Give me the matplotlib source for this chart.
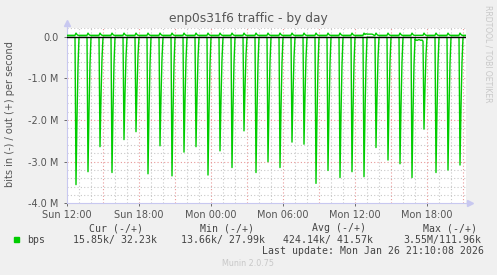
import numpy as np
import matplotlib as mpl
mpl.use('Agg')
import matplotlib.pyplot as plt
from matplotlib.patches import Rectangle

# Hourly "in" spikes (time of the drop, depth in M bits/s)
spike_times = ['Sun 12:45', 'Sun 13:45', 'Sun 14:45', 'Sun 15:45', 'Sun 16:45',
               'Sun 17:45', 'Sun 18:45', 'Sun 19:45', 'Sun 20:45', 'Sun 21:45',
               'Sun 22:45', 'Sun 23:45', 'Mon 00:45', 'Mon 01:45', 'Mon 02:45',
               'Mon 03:45', 'Mon 04:45', 'Mon 05:45', 'Mon 06:45', 'Mon 07:45',
               'Mon 08:45', 'Mon 09:45', 'Mon 10:45', 'Mon 11:45', 'Mon 12:45',
               'Mon 13:45', 'Mon 14:45', 'Mon 15:45', 'Mon 16:45', 'Mon 17:45',
               'Mon 18:45', 'Mon 19:45', 'Mon 20:45']
spike_depth = [3.55, 3.24, 2.64, 3.26, 2.47, 2.28, 3.29, 2.62, 3.34, 2.77,
               2.64, 3.32, 2.74, 3.14, 2.26, 3.26, 3.00, 3.14, 2.53, 2.58,
               3.52, 3.21, 3.38, 3.24, 3.36, 2.66, 2.96, 3.05, 3.38, 2.22,
               3.26, 3.20, 3.08]
# shape of a spike over consecutive 5 min samples (fraction of depth)
spike_shape = [1.0, 0.55, 0.2]
# "out" bump at each spike (M)
bump_shape = [0.085, 0.05]

in_base = -0.015
out_base = 0.032

# a few odd stretches
in_extra_times = ['Mon 17:00', 'Mon 17:05', 'Mon 17:10', 'Mon 17:15', 'Mon 17:20',
                  'Mon 17:25', 'Mon 17:30', 'Mon 17:35', 'Mon 17:40']
in_extra_vals = [-0.05, -0.08, -0.09, -0.08, -0.07, -0.08, -0.09, -0.08, -0.11]
out_extra_times = ['Mon 12:55', 'Mon 13:00', 'Mon 13:05', 'Mon 13:10', 'Mon 13:15',
                   'Mon 13:20', 'Mon 13:25', 'Mon 13:30']
out_extra_vals = [0.07, 0.06, 0.06, 0.06, 0.06, 0.06, 0.06, 0.05]

x_labels = ['Sun 12:00', 'Sun 18:00', 'Mon 00:00', 'Mon 06:00', 'Mon 12:00', 'Mon 18:00']
y_labels = ['0.0', '-1.0 M', '-2.0 M', '-3.0 M', '-4.0 M']


def to_min(s):
    day, hm = s.split()
    h, m = hm.split(':')
    return (24 * 60 if day == 'Mon' else 0) + int(h) * 60 + int(m) - 12 * 60


step = 5
t = np.arange(0, 1996, step)
idx = {m: i for i, m in enumerate(t)}
v_in = np.full(len(t), in_base)
v_out = np.full(len(t), out_base)
for s, d in zip(spike_times, spike_depth):
    i = idx[to_min(s)]
    for k, f in enumerate(spike_shape):
        v_in[i + k] = -d * f
    for k, b in enumerate(bump_shape):
        v_out[i + k] = b
for s, v in zip(in_extra_times, in_extra_vals):
    v_in[idx[to_min(s)]] = v
for s, v in zip(out_extra_times, out_extra_vals):
    v_out[idx[to_min(s)]] = v
hrs = t / 60.0

W, H = 497, 275
fig = plt.figure(figsize=(W / 100, H / 100), dpi=100, facecolor='#F0F0F0')
ax = fig.add_axes([67 / W, (H - 203.4) / H, 399 / W, (203.4 - 28.3) / H])
ax.set_facecolor('white')

green = '#00CC00'
ax.plot(hrs, v_out, color=green, lw=1.0, zorder=3)
ax.plot(hrs, v_in, color=green, lw=1.0, zorder=3)
ax.axhline(0, color='black', lw=1.0, zorder=4)

ax.set_xlim(0, 33.25)
ax.set_ylim(-4.0, 0.2)

# grid
minor_c = '#C8C8C8'
major_c = '#E89898'
dots = (0, (1, 2))
for h in np.arange(1, 34, 1):
    ax.axvline(h, color=major_c if h % 3 == 0 else minor_c, lw=0.8, ls=dots, zorder=1)
for y in np.arange(-3.8, 0.21, 0.2):
    yr = round(y, 1)
    ax.axhline(yr, color=major_c if yr == int(yr) else minor_c, lw=0.8, ls=dots, zorder=1)

ax.set_xticks(np.arange(0, 34, 6))
ax.set_xticklabels(x_labels)
ax.set_yticks([0, -1, -2, -3, -4])
ax.set_yticklabels(y_labels)
ax.tick_params(axis='both', labelsize=7, colors='#555555', length=2, width=0.6)
ax.tick_params(axis='x', pad=3)
ax.tick_params(axis='y', pad=4)
for lab in ax.get_xticklabels() + ax.get_yticklabels():
    lab.set_color('#555555')

for sp in ['top', 'right']:
    ax.spines[sp].set_visible(False)
for sp in ['left', 'bottom']:
    ax.spines[sp].set_color('#C8C8F0')
    ax.spines[sp].set_linewidth(0.8)
ax.plot([0, 0], [0.2, 0.32], color='#C8C8F0', lw=0.8, clip_on=False)
ax.plot([0], [0.32], marker='^', ms=4, color='#C8C8F0', clip_on=False)
ax.plot([33.25, 33.6], [-4, -4], color='#C8C8F0', lw=0.8, clip_on=False)
ax.plot([33.6], [-4], marker='>', ms=4, color='#C8C8F0', clip_on=False)


def px(x, y):
    return x / W, 1 - y / H


fig.text(*px(248.5, 18.5), 'enp0s31f6 traffic - by day', ha='center', va='center',
         fontsize=8.8, color='#555555')
fig.text(*px(10, 114), 'bits in (-) / out (+) per second', rotation=90,
         ha='center', va='center', fontsize=7, color='#555555')
fig.text(*px(488, 54), 'RRDTOOL / TOBI OETIKER', rotation=270, ha='center',
         va='center', fontsize=5.5, color='#C8C8C8')

mono = dict(family='DejaVu Sans Mono', fontsize=7.15, color='#444444', va='center')
fig.text(*px(89.3, 228.3), 'Cur (-/+)', **mono)
fig.text(*px(200, 228.3), 'Min (-/+)', **mono)
fig.text(*px(311.7, 228.3), 'Avg (-/+)', **mono)
fig.text(*px(422.7, 228.3), 'Max (-/+)', **mono)
fig.text(*px(26.7, 239.7), 'bps', **mono)
fig.text(*px(72.7, 239.7), '15.85k/ 32.23k', **mono)
fig.text(*px(180.7, 239.7), '13.66k/ 27.99k', **mono)
fig.text(*px(282.7, 239.7), '424.14k/ 41.57k', **mono)
fig.text(*px(403.3, 239.7), '3.55M/111.96k', **mono)
fig.text(*px(261.7, 251.3), 'Last update: Mon Jan 26 21:10:08 2026', **mono)
fig.patches.append(Rectangle(px(14, 241.7), 5.3 / W, 5 / H, transform=fig.transFigure,
                             color=green, figure=fig))
fig.text(*px(248, 264), 'Munin 2.0.75', ha='center', va='center', fontsize=5.8,
         color='#C8C8C8')

fig.savefig('out.png', dpi=100, facecolor=fig.get_facecolor())
